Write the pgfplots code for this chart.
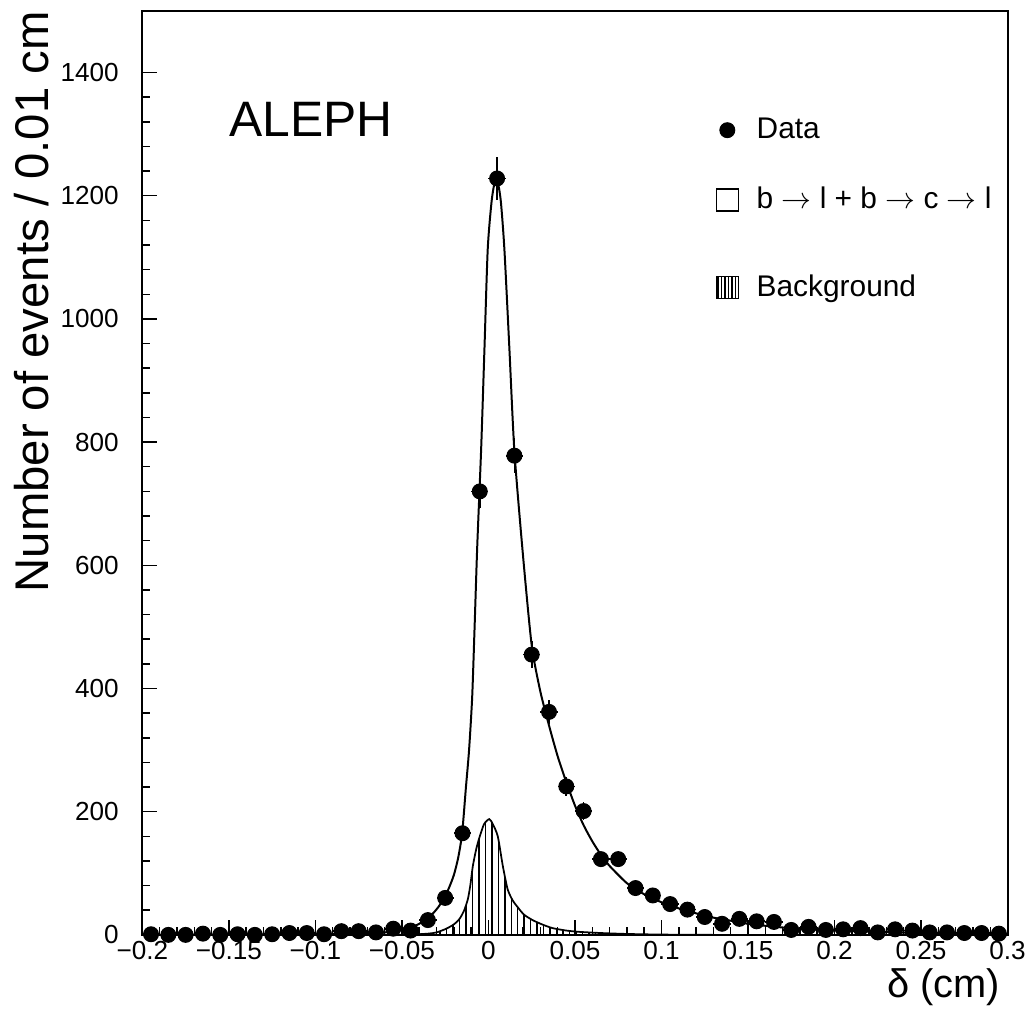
\documentclass[border=0pt]{standalone}
\usepackage{fontspec}
\setmainfont{Liberation Sans}
\usepackage{pgfplots}
\usepackage{pgfplotstable}
\pgfplotsset{compat=1.18}
\usetikzlibrary{patterns.meta}

% delta bins of 0.01 cm: centre, events, half bin, sqrt(N)
\pgfplotstableread{
x       y     ex     ey
-0.195  1     0.005  1.0
-0.185  0     0.005  0
-0.175  0     0.005  0
-0.165  2     0.005  1.4
-0.155  0     0.005  0
-0.145  1     0.005  1.0
-0.135  0     0.005  0
-0.125  1     0.005  1.0
-0.115  3     0.005  1.7
-0.105  3     0.005  1.7
-0.095  1     0.005  1.0
-0.085  6     0.005  2.4
-0.075  6     0.005  2.4
-0.065  4     0.005  2.0
-0.055  10    0.005  3.2
-0.045  7     0.005  2.6
-0.035  24    0.005  4.9
-0.025  60    0.005  7.7
-0.015  165   0.005  12.8
-0.005  720   0.005  26.8
0.005   1228  0.005  35.0
0.015   778   0.005  27.9
0.025   455   0.005  21.3
0.035   362   0.005  19.0
0.045   241   0.005  15.5
0.055   201   0.005  14.2
0.065   123   0.005  11.1
0.075   123   0.005  11.1
0.085   76    0.005  8.7
0.095   64    0.005  8.0
0.105   50    0.005  7.1
0.115   41    0.005  6.4
0.125   29    0.005  5.4
0.135   18    0.005  4.2
0.145   26    0.005  5.1
0.155   22    0.005  4.7
0.165   21    0.005  4.6
0.175   8     0.005  2.8
0.185   13    0.005  3.6
0.195   8     0.005  2.8
0.205   9     0.005  3.0
0.215   11    0.005  3.3
0.225   4     0.005  2.0
0.235   9     0.005  3.0
0.245   7     0.005  2.6
0.255   4     0.005  2.0
0.265   4     0.005  2.0
0.275   3     0.005  1.7
0.285   3     0.005  1.7
0.295   2     0.005  1.4
}\datatab

\pgfplotsset{
    legfont/.style={font=\fontsize{12}{14}\selectfont},
    bgimage/.style={legend image code/.code={\draw[black, line width=0.6pt,
        pattern={Lines[angle=90,distance=1.4pt,line width=0.6pt]}] (0pt,-4.4pt) rectangle (8.8pt,4.4pt); \path (14pt,0pt);}},
}

\begin{document}
\begin{tikzpicture}
\begin{axis}[
    width=347.6pt, height=371.2pt, scale only axis,
    xmin=-0.2, xmax=0.3, ymin=0, ymax=1500,
    axis line style={line width=0.8pt},
    tick pos=left, tick align=inside,
    xtick={-0.2,-0.15,-0.1,-0.05,0,0.05,0.1,0.15,0.2,0.25,0.3},
    xticklabels={−0.2,−0.15,−0.1,−0.05,0,0.05,0.1,0.15,0.2,0.25,0.3},
    ytick={0,200,...,1400},
    minor x tick num=4, minor y tick num=4,
    major tick length=6pt, minor tick length=3pt,
    every tick/.style={black, line width=0.6pt},
    tick label style={font=\fontsize{10.5}{12}\selectfont},
    /pgf/number format/assume math mode=true,
    /pgf/number format/1000 sep={},
    yticklabel style={xshift=-6pt},
    xticklabel style={yshift=1pt},
    ylabel={Number of events / 0.01 cm},
    ylabel style={font=\fontsize{19}{21}\selectfont, at={(axis description cs:-0.107,1.0)}, anchor=south east, inner sep=0pt},
    xlabel={δ (cm)},
    xlabel style={font=\fontsize{16}{18}\selectfont, at={(axis description cs:0.992,0)}, anchor=base east, inner sep=0pt, yshift=-25pt},
    clip=false,
    legend style={draw=none, fill=none, at={(axis description cs:0.662,0.89)}, anchor=north west,
        legfont, row sep=14pt, inner sep=0pt},
    legend cell align=left,
]
% background (hatched)
\addplot[black, line width=0.7pt, smooth, tension=0.4, pattern={Lines[angle=90,distance=2.6pt,line width=0.6pt]}, forget plot] coordinates {
(-0.06,0) (-0.045,0.5) (-0.035,2) (-0.03,4) (-0.0244,10) (-0.02,17) (-0.0167,26) (-0.014,40) (-0.0119,58)
(-0.0105,80) (-0.009,112) (-0.007,140) (-0.005,160) (-0.0025,180) (0.0005,188) (0.0025,180) (0.0054,160)
(0.0083,112) (0.0111,74) (0.014,56) (0.0169,45) (0.0205,33) (0.0255,24) (0.031,17) (0.037,11) (0.045,7)
(0.052,5) (0.065,3) (0.08,1.5) (0.1,0.5) (0.13,0)
} \closedcycle;
% total fit: b->l + b->c->l + background
\addplot[black, line width=0.8pt, smooth, tension=0.4, forget plot] coordinates {
(-0.2,0) (-0.15,0.5) (-0.1,1) (-0.08,2) (-0.07,3) (-0.06,4) (-0.055,6) (-0.05,8) (-0.047,10) (-0.043,14)
(-0.04,18) (-0.036,25) (-0.032,35) (-0.029,45) (-0.026,58) (-0.023,75) (-0.02,97) (-0.0175,125) (-0.0152,165)
(-0.013,240) (-0.0112,300) (-0.0094,386) (-0.008,500) (-0.0065,629) (-0.0042,790) (-0.0023,952) (-0.0004,1114)
(0.002,1195) (0.0045,1230) (0.007,1195) (0.0092,1114) (0.0121,952) (0.015,785) (0.02,615) (0.025,470)
(0.03,395) (0.035,340) (0.04,290) (0.045,248) (0.05,210) (0.055,178) (0.06,152) (0.065,130) (0.07,112)
(0.08,84) (0.09,66) (0.1,53) (0.11,43) (0.12,35) (0.13,28) (0.14,23) (0.15,18) (0.17,12) (0.2,7) (0.25,3) (0.3,1)
};
% data
\addplot[black, only marks, mark=*, mark size=3pt, forget plot,
    error bars/.cd, x dir=both, x explicit, y dir=both, y explicit,
    error mark=none, error bar style={line width=0.7pt}]
    table[x=x, y=y, x error=ex, y error=ey] {\datatab};

\addlegendimage{legend image code/.code={\fill[black] (4.4pt,0pt) circle (3pt); \path (14pt,0pt);}}
\addlegendentry{Data}
\addlegendimage{legend image code/.code={\draw[black, line width=0.6pt] (0pt,-4.4pt) rectangle (8.8pt,4.4pt); \path (14pt,0pt);}}
\addlegendentry{b\;$\rightarrow$\;l + b\;$\rightarrow$\;c\;$\rightarrow$\;l}

\node[anchor=base west, font=\fontsize{20}{22}\selectfont, inner sep=0pt] at (axis cs:-0.15,1296) {ALEPH};
\end{axis}
% third legend row sits further down in the original, so it gets its own legend
\begin{axis}[
    width=347.6pt, height=371.2pt, scale only axis, hide axis,
    xmin=-0.2, xmax=0.3, ymin=0, ymax=1500,
    legend style={draw=none, fill=none, at={(axis description cs:0.662,0.7005)}, anchor=west,
        legfont, inner sep=0pt},
    legend cell align=left,
]
\addlegendimage{bgimage}
\addlegendentry{Background}
\end{axis}
\path (current axis.south west) ++(-57.2pt,-30.4pt);
\path (current axis.north east) ++(8.8pt,4.4pt);
\end{tikzpicture}
\end{document}
